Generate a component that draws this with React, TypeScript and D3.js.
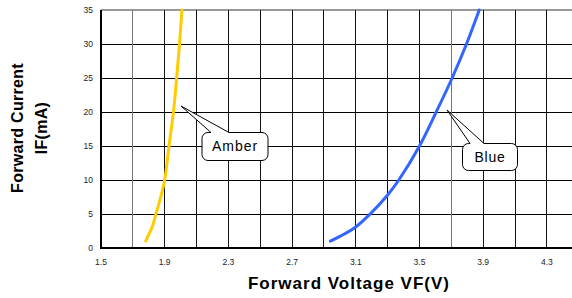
import React from "react";
import * as d3 from "d3";

const xTickLabels = [1.5, 1.9, 2.3, 2.7, 3.1, 3.5, 3.9, 4.3];
const xGrid = [1.5, 1.7, 1.9, 2.1, 2.3, 2.5, 2.7, 2.9, 3.1, 3.3, 3.5, 3.7, 3.9, 4.1, 4.3, 4.5];
const yTicks = [0, 5, 10, 15, 20, 25, 30, 35];

const amberV = [1.781, 1.80, 1.82, 1.845, 1.875, 1.90, 1.927, 1.955, 1.975, 1.993, 2.008];
const amberI = [1, 2, 3, 5, 7.5, 10, 15, 20, 25, 30, 35];
const blueV = [2.94, 3.0, 3.1, 3.19, 3.30, 3.37, 3.50, 3.605, 3.705, 3.795, 3.875];
const blueI = [1, 1.7, 3.1, 5, 7.8, 10, 15, 20, 25, 30, 35];

const W = 572, H = 298;
const x = d3.scaleLinear().domain([1.5, 4.5]).range([101, 578.75]);
const y = d3.scaleLinear().domain([0, 35]).range([248, 10]);

const font = "'Liberation Sans', Arial, sans-serif";

function callout(bx: number, by: number, bw: number, bh: number, r: number, w1: number, w2: number, tx: number, ty: number) {
  const p = d3.path();
  p.moveTo(bx + r, by);
  p.lineTo(w1, by);
  p.lineTo(tx, ty);
  p.lineTo(w2, by);
  p.lineTo(bx + bw - r, by);
  p.arcTo(bx + bw, by, bx + bw, by + r, r);
  p.lineTo(bx + bw, by + bh - r);
  p.arcTo(bx + bw, by + bh, bx + bw - r, by + bh, r);
  p.lineTo(bx + r, by + bh);
  p.arcTo(bx, by + bh, bx, by + bh - r, r);
  p.lineTo(bx, by + r);
  p.arcTo(bx, by, bx + r, by, r);
  p.closePath();
  return p.toString();
}

export default function App() {
  const line = d3.line<[number, number]>().x(d => x(d[0])).y(d => y(d[1])).curve(d3.curveCatmullRom.alpha(0.5));
  const amber = line(amberV.map((v, i) => [v, amberI[i]] as [number, number]));
  const blue = line(blueV.map((v, i) => [v, blueI[i]] as [number, number]));

  return (
    <svg width={W} height={H} style={{ position: "absolute", left: 0, top: 0, background: "#fff" }} fontFamily={font}>
      <rect x={0} y={0} width={W} height={H} fill="#fff" />
      {yTicks.map(t => (
        <line key={"h" + t} x1={x(1.5)} x2={x(4.5)} y1={y(t)} y2={y(t)}
          stroke={t === 35 ? "#999" : "#000"} strokeWidth={t === 35 ? 2 : 1} shapeRendering="crispEdges" />
      ))}
      {xGrid.map(v => (
        <line key={"v" + v} x1={x(v)} x2={x(v)} y1={y(35)} y2={y(0)}
          stroke={Math.abs(v - 1.7) < 1e-6 || Math.abs(v - 3.7) < 1e-6 ? "#777" : "#111"} strokeWidth={1} shapeRendering="crispEdges" />
      ))}
      <line x1={x(1.5)} x2={x(1.5)} y1={y(35)} y2={y(0) + 1} stroke="#000" strokeWidth={2} />
      <line x1={x(1.5)} x2={x(4.5)} y1={y(0)} y2={y(0)} stroke="#000" strokeWidth={2} />

      <path d={amber || ""} fill="none" stroke="#FFCC00" strokeWidth={3} strokeLinecap="round" />
      <path d={blue || ""} fill="none" stroke="#3366FF" strokeWidth={3} strokeLinecap="round" />

      <path d={callout(202, 132.5, 66, 28, 6, 211, 229, 181, 106)} fill="#fff" stroke="#000" strokeWidth={1} />
      <text x={235} y={151} textAnchor="middle" fontSize={14} letterSpacing={1} fill="#000">Amber</text>
      <path d={callout(462.5, 143.5, 55, 27, 6, 470, 484, 447, 110)} fill="#fff" stroke="#000" strokeWidth={1} />
      <text x={490} y={162} textAnchor="middle" fontSize={14} letterSpacing={0.7} fill="#000">Blue</text>

      {yTicks.map(t => (
        <text key={"yl" + t} x={93} y={y(t) + 3} textAnchor="end" fontSize={8.5} fill="#222">{t}</text>
      ))}
      {xTickLabels.map(v => (
        <text key={"xl" + v} x={x(v)} y={265} textAnchor="middle" fontSize={8.5} fill="#222">{v.toFixed(1)}</text>
      ))}

      <text x={349} y={289} textAnchor="middle" fontSize={17} fontWeight="bold" fill="#000" letterSpacing={1}>Forward Voltage VF(V)</text>
      <text transform="translate(23,128) rotate(-90)" textAnchor="middle" fontSize={16} fontWeight="bold" fill="#000" letterSpacing={0.3}>Forward Current</text>
      <text transform="translate(47,128) rotate(-90)" textAnchor="middle" fontSize={16} fontWeight="bold" fill="#000" letterSpacing={0.3}>IF(mA)</text>
    </svg>
  );
}
